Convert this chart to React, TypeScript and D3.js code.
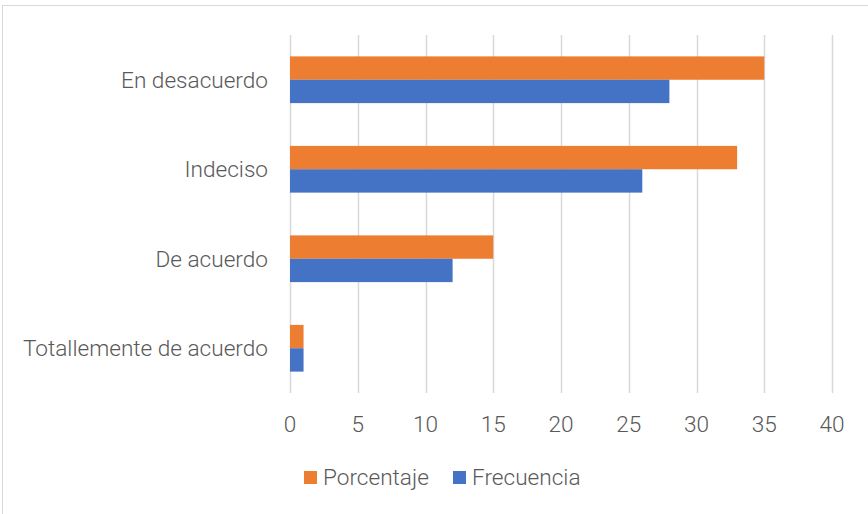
import React, { useEffect, useRef } from 'react';
import * as d3 from 'd3';

// categories, top to bottom
const categories = ['En desacuerdo', 'Indeciso', 'De acuerdo', 'Totallemente de acuerdo'];
const seriesNames = ['Porcentaje', 'Frecuencia'];
const porcentaje = [35, 33, 15, 1];
const frecuencia = [28, 26, 12, 1];
const xTicks = [0, 5, 10, 15, 20, 25, 30, 35, 40];

const COLORS = ['#ED7D31', '#4472C4'];
const W = 868;
const H = 514;
const FONT = 'Roboto, "Open Sans", sans-serif';
const FS = 22.6;

const App = () => {
  const svgRef = useRef<SVGSVGElement>(null);

  useEffect(() => {
    if (!svgRef.current) return;
    const svg = d3.select(svgRef.current);
    svg.selectAll('*').remove();

    const plot = { left: 290, right: 832, top: 35, bottom: 393 };

    const x = d3.scaleLinear().domain([0, 40]).range([plot.left, plot.right]);
    const y = d3.scaleBand().domain(categories).range([plot.top, plot.bottom]).paddingInner(0.478).paddingOuter(0.239);
    const inner = d3.scaleBand().domain(seriesNames).range([0, y.bandwidth()]);

    // chart frame
    svg.append('rect')
      .attr('x', 2.5).attr('y', 5.5).attr('width', W + 10).attr('height', H + 10)
      .attr('fill', 'white').attr('stroke', '#D9D9D9').attr('stroke-width', 1);

    // gridlines
    svg.append('g').selectAll('line').data(xTicks).enter().append('line')
      .attr('x1', d => Math.round(x(d)) + 0.5).attr('x2', d => Math.round(x(d)) + 0.5)
      .attr('y1', plot.top).attr('y2', plot.bottom)
      .attr('stroke', '#D9D9D9').attr('stroke-width', 1.5);

    const rows = categories.map((c, i) => ({ c, vals: [porcentaje[i], frecuencia[i]] }));

    const g = svg.append('g').selectAll('g').data(rows).enter().append('g')
      .attr('transform', d => `translate(0,${y(d.c)})`);

    g.selectAll('rect').data(d => d.vals.map((v, k) => ({ v, k }))).enter().append('rect')
      .attr('x', x(0))
      .attr('y', d => inner(seriesNames[d.k]) as number)
      .attr('width', d => x(d.v) - x(0))
      .attr('height', inner.bandwidth())
      .attr('fill', d => COLORS[d.k]);

    const txt = sel => sel
      .attr('font-family', FONT).attr('font-size', FS).attr('font-weight', 300).attr('fill', '#595959');

    // category labels
    svg.append('g').selectAll('text').data(categories).enter().append('text')
      .attr('x', 268)
      .attr('y', d => (y(d) as number) + y.bandwidth() / 2)
      .attr('dy', '0.35em')
      .attr('text-anchor', 'end')
      .call(txt)
      .text(d => d);

    // tick labels
    svg.append('g').selectAll('text').data(xTicks).enter().append('text')
      .attr('x', d => x(d))
      .attr('y', 424)
      .attr('dy', '0.35em')
      .attr('text-anchor', 'middle')
      .call(txt)
      .text(d => d);

    // legend
    const legendX = [304, 453];
    const lg = svg.append('g').selectAll('g').data(seriesNames).enter().append('g')
      .attr('transform', (_, i) => `translate(${legendX[i]},471)`);
    lg.append('rect').attr('width', 13).attr('height', 13).attr('fill', (_, i) => COLORS[i]);
    lg.append('text')
      .attr('x', 19).attr('y', 6.5).attr('dy', '0.35em')
      .call(txt)
      .text(d => d);
  }, []);

  return (
    <svg
      ref={svgRef}
      width={W}
      height={H}
      style={{ position: 'absolute', left: 0, top: 0, background: 'white' }}
    />
  );
};

export default App;
